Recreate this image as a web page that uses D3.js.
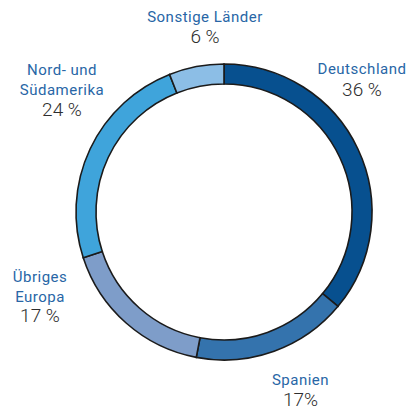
<!DOCTYPE html>
<html><head><meta charset="utf-8">
<script src="https://cdn.jsdelivr.net/npm/d3@7/dist/d3.min.js"></script>
<style>html,body{margin:0;padding:0;background:#fff;}</style>
</head><body>
<svg id="c" width="408" height="409"></svg>
<script>
const categories = ["Deutschland", "Spanien", "Übriges Europa", "Nord- und Südamerika", "Sonstige Länder"];
const values = [36, 17, 17, 24, 6];
const colors = ["#07508f", "#3473ad", "#7e9dc9", "#3fa4db", "#8cbee6"];
const labelLines = [["Deutschland"], ["Spanien"], ["Übriges", "Europa"], ["Nord- und", "Südamerika"], ["Sonstige Länder"]];
const valueLabels = ["36 %", "17%", "17 %", "24 %", "6 %"];
// label anchor positions (center x, first baseline y, value baseline offset)
const labelPos = [[362, 73.5, 22], [300.5, 384.5, 21], [40, 281.5, 40.5], [62, 75, 41], [205, 21.5, 21]];

const svg = d3.select("#c");
const cx = 224, cy = 212, rOuter = 148, rInner = 128;
const pie = d3.pie().sort(null).value(d => d)(values);
const arc = d3.arc().innerRadius(rInner).outerRadius(rOuter);
const g = svg.append("g").attr("transform", `translate(${cx},${cy})`);
g.selectAll("path").data(pie).join("path")
  .attr("d", arc)
  .attr("fill", (d, i) => colors[i])
  .attr("stroke", "#1b1b1b")
  .attr("stroke-width", 1.6);

labelLines.forEach((lines, i) => {
  const [x, y, dv] = labelPos[i];
  const t = svg.append("text").attr("text-anchor", "middle")
    .attr("font-family", "Roboto, sans-serif")
    .attr("font-size", 15).attr("font-weight", 400).attr("letter-spacing", 0.5)
    .attr("fill", "#2866a6");
  lines.forEach((l, j) => {
    t.append("tspan").attr("x", x).attr("y", y + j * 20).text(l);
  });
  svg.append("text").attr("text-anchor", "middle")
    .attr("x", x).attr("y", y + dv)
    .attr("font-family", "Roboto, sans-serif")
    .attr("font-size", 19).attr("font-weight", 300).attr("fill", "#2e2e2e")
    .text(valueLabels[i]);
});
</script>
</body></html>
